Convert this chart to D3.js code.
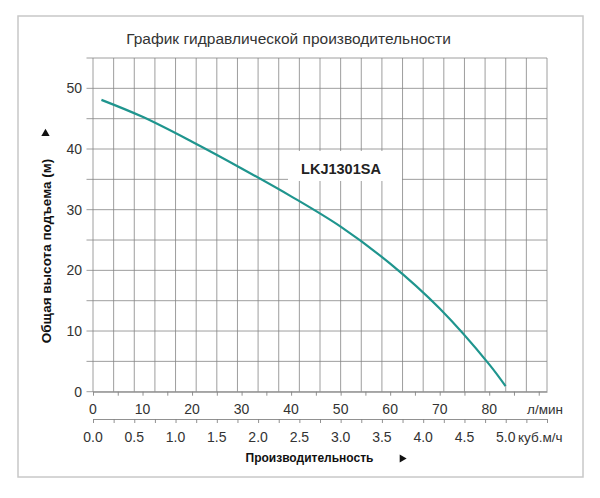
<!DOCTYPE html>
<html>
<head>
<meta charset="utf-8">
<script src="https://cdn.jsdelivr.net/npm/d3@7"></script>
<style>
  body { margin: 0; background: #fff; }
  text { font-family: "Liberation Sans", Arial, sans-serif; fill: #333; }
</style>
</head>
<body>
<div class="container"></div>
<script>
// flow in l/min and head in m
const flowLpm = [1.7, 10, 20, 30, 40, 50, 60, 70, 80, 83.3];
const headM = [48.1, 45.3, 41.2, 36.8, 32.2, 27.2, 21.1, 13.7, 4.5, 0.9];

const yTicks = [0, 10, 20, 30, 40, 50];
const lpmTicks = [0, 10, 20, 30, 40, 50, 60, 70, 80];
const m3hTicks = [0, 0.5, 1.0, 1.5, 2.0, 2.5, 3.0, 3.5, 4.0, 4.5, 5.0];

const modelName = "LKJ1301SA";
const title = "График гидравлической производительности";
const yTitle = "Общая высота подъема (м)";
const xTitle = "Производительность";

const w = 600;
const h = 498;
const padL = 93, padR = 547, padT = 58, padB = 391.7;

const svg = d3.select(".container")
    .append("svg")
    .attr("width", w)
    .attr("height", h);

// outer frame
svg.append("rect")
    .attr("x", 18).attr("y", 16)
    .attr("width", 565).attr("height", 461)
    .attr("fill", "none")
    .attr("stroke", "#c8c8c8")
    .attr("stroke-width", 1.5);

const xM3 = d3.scaleLinear().domain([0, 5.5]).range([padL, padR]);
const xL = d3.scaleLinear().domain([0, 5.5 * 1000 / 60]).range([padL, padR]);
const yScale = d3.scaleLinear().domain([0, 55]).range([padB, padT]);

// grid
const gridX = d3.range(0, 5.5001, 0.25);
const gridY = d3.range(0, 55.001, 5);

svg.append("g")
    .selectAll("line")
    .data(gridX)
    .enter()
    .append("line")
    .attr("x1", d => xM3(d)).attr("x2", d => xM3(d))
    .attr("y1", padT).attr("y2", padB)
    .attr("stroke", "#858585")
    .attr("stroke-width", 0.8);

svg.append("g")
    .selectAll("line")
    .data(gridY)
    .enter()
    .append("line")
    .attr("x1", padL - 6.5).attr("x2", padR)
    .attr("y1", d => yScale(d)).attr("y2", d => yScale(d))
    .attr("stroke", "#858585")
    .attr("stroke-width", 0.8);

// l/min axis ticks (below grid bottom line)
const lAxis = d3.axisBottom(xL)
    .tickValues(d3.range(0, 90.001, 5))
    .tickSizeInner(4)
    .tickSizeOuter(0)
    .tickFormat("");
svg.append("g")
    .attr("class", "gx")
    .attr("transform", "translate(0," + padB + ")")
    .call(lAxis);

// m3/h axis
const mAxis = d3.axisBottom(xM3)
    .tickValues(gridX)
    .tickSizeInner(4)
    .tickSizeOuter(0)
    .tickFormat("");
svg.append("g")
    .attr("class", "gm")
    .attr("transform", "translate(0,419)")
    .call(mAxis);

svg.selectAll(".gx path, .gx line, .gm path, .gm line")
    .attr("stroke", "#858585")
    .attr("stroke-width", 0.9);

// label box behind model name
svg.append("rect")
    .attr("x", 288).attr("y", 151)
    .attr("width", 114).attr("height", 30)
    .attr("fill", "#fff");

// curve
const line = d3.line()
    .x((d, i) => xL(flowLpm[i]))
    .y(d => yScale(d))
    .curve(d3.curveCatmullRom.alpha(0.5));

svg.append("path")
    .datum(headM)
    .attr("d", line)
    .attr("fill", "none")
    .attr("stroke", "#1f958e")
    .attr("stroke-width", 2.2);

svg.append("text")
    .attr("x", 341).attr("y", 173.5)
    .attr("text-anchor", "middle")
    .style("font-size", "14.5px")
    .style("font-weight", "bold")
    .style("fill", "#222")
    .text(modelName);

// title
svg.append("text")
    .attr("x", 288.5).attr("y", 43.5)
    .attr("text-anchor", "middle")
    .style("font-size", "15.5px")
    .text(title);

// y tick labels
svg.append("g")
    .selectAll("text")
    .data(yTicks)
    .enter()
    .append("text")
    .attr("x", 82)
    .attr("y", d => yScale(d) + 5)
    .attr("text-anchor", "end")
    .style("font-size", "14px")
    .text(d => d);

// l/min labels
svg.append("g")
    .selectAll("text")
    .data(lpmTicks)
    .enter()
    .append("text")
    .attr("x", d => xL(d))
    .attr("y", 413.5)
    .attr("text-anchor", "middle")
    .style("font-size", "14px")
    .text(d => d);

svg.append("text")
    .attr("x", 527).attr("y", 413.5)
    .style("font-size", "13.5px")
    .text("л/мин");

// m3/h labels
svg.append("g")
    .selectAll("text")
    .data(m3hTicks)
    .enter()
    .append("text")
    .attr("x", d => xM3(d))
    .attr("y", 441.5)
    .attr("text-anchor", "middle")
    .style("font-size", "14px")
    .text(d => d.toFixed(1));

svg.append("text")
    .attr("x", 518).attr("y", 441.5)
    .style("font-size", "13.5px")
    .text("куб.м/ч");

// x title
svg.append("text")
    .attr("x", 245.5).attr("y", 462)
    .style("font-size", "12px")
    .style("font-weight", "bold")
    .style("fill", "#111")
    .text(xTitle);

// small arrow heads next to the axis titles
svg.append("path")
    .attr("d", d3.symbol(d3.symbolTriangle, 28)())
    .attr("transform", "translate(402,458.5) rotate(90)")
    .attr("fill", "#111");

svg.append("text")
    .attr("transform", "translate(51,251) rotate(-90)")
    .attr("text-anchor", "middle")
    .style("font-size", "13.5px")
    .style("font-weight", "bold")
    .style("fill", "#111")
    .text(yTitle);

svg.append("path")
    .attr("d", d3.symbol(d3.symbolTriangle, 30)())
    .attr("transform", "translate(45.5,133.5)")
    .attr("fill", "#111");
</script>
</body>
</html>
